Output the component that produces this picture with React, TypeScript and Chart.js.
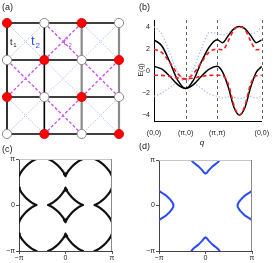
import React, { useEffect, useRef } from "react";
import { Chart, registerables } from "chart.js";

Chart.register(...registerables);

const PI = Math.PI;
const FONT = '"Liberation Sans", Arial, Helvetica, sans-serif';

// ---------- (a) checkerboard lattice ----------
const siteRows = ["RWRW", "WRWR", "RWRW", "WRWR"]; // R: red site, W: open site
const plaquetteRows = ["BMB", "MBM", "BMB"]; // B: t2 (blue dotted), M: t'2 (magenta dashed)
const bondRows = [0, 1, 2, 3];
const darkColumns = [0, 1];
const greyColumns = [2, 3];
const latticeMax = 3;

// ---------- (b) band structure ----------
const qTickPos = [0, 1, 2, 3.414];
const qTickLabels = ["(0,0)", "(π,0)", "(π,π)", "(0,0)"];
const eTicks = [-4, -2, 0, 2, 4];
const qPos = [0, 0.25, 0.5, 0.75, 1, 1.25, 1.5, 1.75, 2, 2.177, 2.354, 2.53, 2.707, 2.884, 3.06, 3.237, 3.414];
const blackUpper = [2.8, 2.25, 0.8, -0.85, -1.6, -0.85, 0.8, 2.15, 2.8, 2.55, 3.2, 3.8, 4.0, 3.8, 3.2, 2.55, 2.8];
const blackLower = [0.4, 0.15, -0.5, -1.25, -1.6, -1.25, -0.5, 0.15, 0.4, -0.15, -1.5, -3.3, -4.0, -3.3, -1.5, -0.15, 0.4];
const redUpper = [1.95, 1.65, 0.75, -0.25, -0.75, -0.25, 0.75, 1.7, 1.95, 1.9, 2.7, 3.7, 4.0, 3.7, 2.7, 1.9, 1.95];
const redLower = [-0.4, -0.42, -0.5, -0.65, -0.75, -0.65, -0.5, -0.42, -0.4, -0.45, -1.2, -3.1, -4.0, -3.1, -1.2, -0.45, -0.4];
const blueUpper = [4.0, 3.3, 1.6, -0.1, -0.8, 0.2, 2.0, 3.45, 3.4, 3.25, 3.45, 3.85, 4.0, 3.8, 3.35, 3.5, 4.0];
const blueLower = [-2.3, -2.0, -1.5, -1.05, -0.8, -1.1, -1.6, -2.1, -2.3, -2.45, -2.35, -2.4, -2.5, -2.4, -2.35, -2.45, -2.3];

// ---------- (c), (d) Fermi surfaces ----------
const kTicks = [-PI, 0, PI];
const kTickLabels = ["−π", "0", "π"];
// one concave side of the diamond pockets, from the +ky tip to the +kx tip
const diamondSide = [
  [0, 1.18], [0.05, 1.06], [0.1, 0.96], [0.16, 0.86], [0.23, 0.77], [0.32, 0.66], [0.4, 0.56], [0.48, 0.48],
  [0.56, 0.4], [0.66, 0.32], [0.77, 0.23], [0.86, 0.16], [0.96, 0.1], [1.06, 0.05], [1.18, 0],
];
const diamondCenters = [[0, 0], [0, PI], [0, -PI], [PI, 0], [-PI, 0], [PI, PI], [PI, -PI], [-PI, PI], [-PI, -PI]];
// pockets in (d): [offset along zone edge, depth into the zone], edge -> tip
const pocketArmV = [[0.95, 0], [0.88, 0.1], [0.77, 0.21], [0.63, 0.32], [0.5, 0.42], [0.36, 0.56], [0.23, 0.7], [0.12, 0.84], [0.05, 0.91], [0, 0.94]];
const pocketArmH = [[1.01, 0], [0.92, 0.12], [0.72, 0.44], [0.55, 0.62], [0.37, 0.79], [0.2, 0.91], [0.08, 0.96], [0, 0.98]];

function txt(ctx: any, s: string, x: number, y: number, size: number, color = "#222", align = "left", baseline = "middle", style = "") {
  ctx.font = `${style} ${size}px ${FONT}`;
  ctx.fillStyle = color;
  ctx.textAlign = align;
  ctx.textBaseline = baseline;
  ctx.fillText(s, x, y);
}

const noInteract = { legend: { display: false }, tooltip: { enabled: false } };

function makeLattice() {
  const red: any[] = [];
  const white: any[] = [];
  siteRows.forEach((row, r) => row.split("").forEach((s, c) => (s === "R" ? red : white).push({ x: c, y: r })));
  const blueX: any[] = [];
  const magX: any[] = [];
  plaquetteRows.forEach((row, r) =>
    row.split("").forEach((s, c) => {
      const t = s === "B" ? blueX : magX;
      t.push({ x: c, y: r }, { x: c + 1, y: r + 1 }, { x: c + 1, y: null }, { x: c + 1, y: r }, { x: c, y: r + 1 }, { x: c, y: null });
    })
  );
  const hLines: any[] = [];
  bondRows.forEach((r) => hLines.push({ x: 0, y: r }, { x: latticeMax, y: r }, { x: latticeMax, y: null }));
  const vDark: any[] = [];
  darkColumns.forEach((c) => vDark.push({ x: c, y: 0 }, { x: c, y: latticeMax }, { x: c, y: null }));
  const vGrey: any[] = [];
  greyColumns.forEach((c) => vGrey.push({ x: c, y: 0 }, { x: c, y: latticeMax }, { x: c, y: null }));

  const labels = {
    id: "labelsA",
    afterDraw(chart: any) {
      const ctx = chart.ctx;
      ctx.save();
      txt(ctx, "(a)", 2, 8, 9);
      txt(ctx, "t", 10, 45, 9, "#111", "left", "alphabetic");
      txt(ctx, "1", 13.2, 47, 6, "#111", "left", "alphabetic");
      txt(ctx, "t", 31, 45, 13, "#2a4bff", "left", "alphabetic");
      txt(ctx, "2", 35.5, 48, 8, "#2a4bff", "left", "alphabetic");
      txt(ctx, "t", 63.5, 45, 9, "#c040e8", "left", "alphabetic");
      txt(ctx, "′", 66.5, 43, 7, "#c040e8", "left", "alphabetic");
      txt(ctx, "2", 68.5, 47, 6, "#c040e8", "left", "alphabetic");
      ctx.restore();
    },
  };

  return {
    type: "line",
    data: {
      datasets: [
        { data: red, showLine: false, pointRadius: 4.6, pointBackgroundColor: "#ff0000", pointBorderColor: "#d40000", pointBorderWidth: 0.8, clip: false },
        { data: white, showLine: false, pointRadius: 4.6, pointBackgroundColor: "#ffffff", pointBorderColor: "#8a8a8a", pointBorderWidth: 1, clip: false },
        { data: hLines, borderColor: "#000", borderWidth: 1.6, pointRadius: 0, clip: false },
        { data: vDark, borderColor: "#000", borderWidth: 1.6, pointRadius: 0, clip: false },
        { data: vGrey, borderColor: "#8a8a8a", borderWidth: 2.2, pointRadius: 0, clip: false },
        { data: magX, borderColor: "#c84cf0", borderWidth: 1.3, borderDash: [3, 2], pointRadius: 0, clip: false },
        { data: blueX, borderColor: "#b0bcff", borderWidth: 1, borderDash: [1.5, 1.5], pointRadius: 0, clip: false },
      ],
    },
    options: {
      responsive: false,
      animation: false,
      events: [],
      layout: { padding: { left: 7, right: 18, top: 23, bottom: 11 } },
      scales: {
        x: { type: "linear", display: false, min: 0, max: latticeMax },
        y: { type: "linear", display: false, min: 0, max: latticeMax, reverse: true },
      },
      plugins: noInteract,
    },
    plugins: [labels],
  };
}

function makeBands() {
  const pts = (arr: number[]) => qPos.map((x, i) => ({ x, y: arr[i] }));
  const red = { borderColor: "#ff1a1a", borderWidth: 1.6, borderDash: [4, 3] };
  const black = { borderColor: "#000", borderWidth: 1.5 };
  const blue = { borderColor: "#a0b0ff", borderWidth: 1.2, borderDash: [1.2, 2] };
  const extras = {
    id: "extrasB",
    beforeDatasetsDraw(chart: any) {
      const { ctx, chartArea: a } = chart;
      const xs = chart.scales.x;
      ctx.save();
      ctx.strokeStyle = "#666";
      ctx.lineWidth = 1;
      ctx.setLineDash([3, 3]);
      qTickPos.slice(1).forEach((v) => {
        const px = Math.round(xs.getPixelForValue(v)) + 0.5;
        ctx.beginPath();
        ctx.moveTo(px, a.top);
        ctx.lineTo(px, a.bottom);
        ctx.stroke();
      });
      ctx.restore();
    },
    afterDraw(chart: any) {
      const ctx = chart.ctx;
      ctx.save();
      txt(ctx, "(b)", 2, 8, 9);
      txt(ctx, "q", 65, 143, 8, "#222", "center", "middle", "italic");
      ctx.translate(4, 70);
      ctx.rotate(-PI / 2);
      ctx.font = `7px ${FONT}`;
      const w1 = ctx.measureText("E(").width;
      ctx.font = `italic 7px ${FONT}`;
      const w2 = ctx.measureText("q").width;
      ctx.font = `7px ${FONT}`;
      const w3 = ctx.measureText(")").width;
      const x0 = -(w1 + w2 + w3) / 2;
      txt(ctx, "E(", x0, 0, 7);
      txt(ctx, "q", x0 + w1, 0, 7, "#222", "left", "middle", "italic");
      txt(ctx, ")", x0 + w1 + w2, 0, 7);
      ctx.restore();
    },
  };
  return {
    type: "line",
    data: {
      datasets: [
        { data: pts(redUpper), ...red },
        { data: pts(redLower), ...red },
        { data: pts(blackUpper), ...black },
        { data: pts(blackLower), ...black },
        { data: pts(blueUpper), ...blue },
        { data: pts(blueLower), ...blue },
      ],
    },
    options: {
      responsive: false,
      animation: false,
      events: [],
      layout: { padding: { left: 0, right: 15, top: 20, bottom: 0 } },
      elements: { point: { radius: 0 }, line: { cubicInterpolationMode: "monotone" } },
      scales: {
        x: {
          type: "linear",
          min: qTickPos[0],
          max: qTickPos[qTickPos.length - 1],
          afterBuildTicks: (s: any) => { s.ticks = qTickPos.map((v) => ({ value: v })); },
          afterFit: (s: any) => { s.height = 29; },
          grid: { display: false, drawTicks: false },
          border: { display: true, color: "#000", width: 1 },
          ticks: { autoSkip: false, maxRotation: 0, padding: 8, color: "#222", font: { family: FONT, size: 7 }, callback: (_v: any, i: number) => qTickLabels[i] },
        },
        y: {
          type: "linear",
          min: -4.55,
          max: 4.6,
          afterBuildTicks: (s: any) => { s.ticks = eTicks.map((v) => ({ value: v })); },
          afterFit: (s: any) => { s.width = 17; },
          grid: { display: false, drawTicks: false },
          border: { display: true, color: "#000", width: 1 },
          ticks: { padding: 4, color: "#222", font: { family: FONT, size: 7 }, callback: (v: any) => String(v).replace("-", "−") },
        },
      },
      plugins: noInteract,
    },
    plugins: [extras],
  };
}

function diamondLoop(cx: number, cy: number) {
  const q1 = diamondSide.map(([a, b]) => ({ x: cx + a, y: cy + b }));
  const q4 = diamondSide.slice().reverse().map(([a, b]) => ({ x: cx + a, y: cy - b }));
  const q3 = diamondSide.map(([a, b]) => ({ x: cx - a, y: cy - b }));
  const q2 = diamondSide.slice().reverse().map(([a, b]) => ({ x: cx - a, y: cy + b }));
  return [...q1, ...q4, ...q3, ...q2, { x: cx, y: null }];
}

function pocketV(edgeY: number, sign: number) {
  const left = pocketArmV.map(([o, d]) => ({ x: -o, y: edgeY + sign * d }));
  const right = pocketArmV.slice().reverse().map(([o, d]) => ({ x: o, y: edgeY + sign * d }));
  return [...left, ...right, { x: 0, y: null }];
}

function pocketH(edgeX: number, sign: number) {
  const upper = pocketArmH.map(([o, d]) => ({ x: edgeX + sign * d, y: o }));
  const lower = pocketArmH.slice().reverse().map(([o, d]) => ({ x: edgeX + sign * d, y: -o }));
  return [...upper, ...lower, { x: edgeX, y: null }];
}

function makeFermi(label: string, data: any[], color: string, width: number, yWidth: number, padTop: number, labelY: number) {
  const frame = {
    id: "frame" + label,
    afterDraw(chart: any) {
      const { ctx, chartArea: a } = chart;
      ctx.save();
      ctx.lineWidth = 1;
      ctx.strokeStyle = "#c4c4c4";
      ctx.beginPath();
      ctx.moveTo(a.left, a.top + 0.5);
      ctx.lineTo(a.right, a.top + 0.5);
      ctx.stroke();
      ctx.strokeStyle = "#8a8a8a";
      ctx.beginPath();
      ctx.moveTo(a.right - 0.5, a.top);
      ctx.lineTo(a.right - 0.5, a.bottom);
      ctx.stroke();
      txt(ctx, label, 2, labelY, 9);
      ctx.restore();
    },
  };
  const axis = (isX: boolean) => ({
    type: "linear",
    min: -PI,
    max: PI,
    afterBuildTicks: (s: any) => { s.ticks = kTicks.map((v) => ({ value: v })); },
    afterFit: (s: any) => { if (isX) s.height = 12; else s.width = yWidth; },
    grid: { display: true, drawOnChartArea: false, drawTicks: true, tickLength: 3, color: "#555" },
    border: { display: true, color: "#444", width: 1 },
    ticks: { autoSkip: false, maxRotation: 0, padding: isX ? 0 : 1, color: "#222", font: { family: FONT, size: 7 }, callback: (_v: any, i: number) => kTickLabels[i] },
  });
  return {
    type: "line",
    data: { datasets: [{ data, borderColor: color, borderWidth: width, pointRadius: 0, borderJoinStyle: "round", borderCapStyle: "round", clip: 0 }] },
    options: {
      responsive: false,
      animation: false,
      events: [],
      layout: { padding: { left: 0, right: 25, top: padTop, bottom: 0 } },
      scales: { x: axis(true), y: axis(false) },
      plugins: noInteract,
    },
    plugins: [frame],
  };
}

const makeC = () => {
  const data: any[] = [];
  diamondCenters.forEach(([cx, cy]) => data.push(...diamondLoop(cx, cy)));
  return makeFermi("(c)", data, "#111", 2.2, 19, 16, 7);
};

const makeD = () => {
  const data = [...pocketV(PI, -1), ...pocketV(-PI, 1), ...pocketH(-PI, 1), ...pocketH(PI, -1)];
  return makeFermi("(d)", data, "#2a4cf5", 2, 22, 17, 4);
};

function Panel({ x, y, w, h, make }: { x: number; y: number; w: number; h: number; make: () => any }) {
  const ref = useRef<HTMLCanvasElement | null>(null);
  useEffect(() => {
    if (!ref.current) return;
    const chart = new Chart(ref.current, make());
    return () => chart.destroy();
  }, [make]);
  return <canvas ref={ref} width={w} height={h} style={{ position: "absolute", left: x, top: y, width: w, height: h }} />;
}

export default function App() {
  return (
    <div style={{ position: "absolute", left: 0, top: 0, width: 277, height: 263, background: "#fff", overflow: "hidden" }}>
      <Panel x={0} y={0} w={137} h={145} make={makeLattice} />
      <Panel x={137} y={0} w={140} h={150} make={makeBands} />
      <Panel x={0} y={143} w={137} h={120} make={makeC} />
      <Panel x={137} y={143} w={140} h={120} make={makeD} />
    </div>
  );
}
